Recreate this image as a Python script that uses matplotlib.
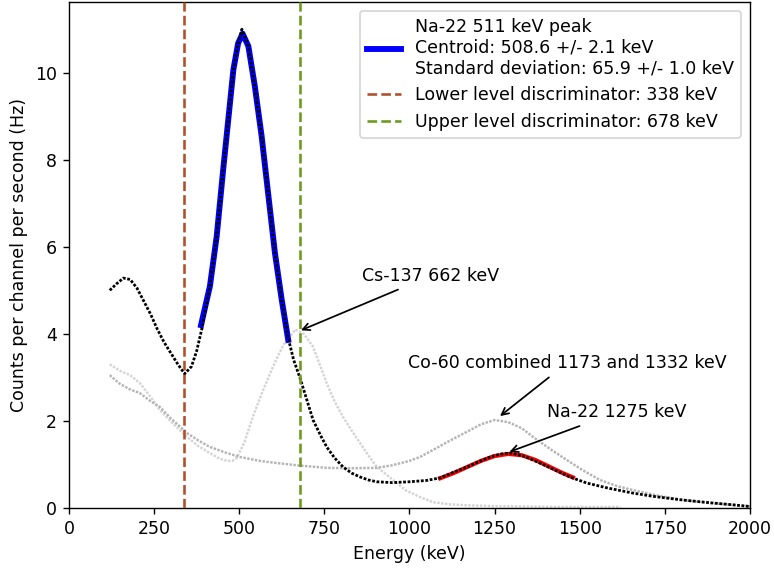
#!/usr/bin/env python3
"""
Espectro Na-22 con Cs-137 y Co-60 de referencia
"""

import matplotlib
matplotlib.use("Agg")
import matplotlib.pyplot as plt

# Na-22 spectrum (keV, Hz)
na_energy = [120, 140, 160, 180, 200, 220, 240, 260, 280, 300, 320, 340, 360, 375, 390,
             414, 434, 453, 468, 483, 497, 508, 527, 546, 566, 585, 605, 625, 644, 660,
             678, 700, 717, 740, 757, 780, 805, 830, 855, 880, 904, 950, 1000, 1050, 1090,
             1130, 1169, 1200, 1240, 1270, 1300, 1340, 1383, 1430, 1471, 1521, 1580, 1656,
             1720, 1803, 1880, 1950, 2000]
na_counts = [5.0, 5.15, 5.28, 5.25, 5.05, 4.75, 4.45, 4.1, 3.8, 3.55, 3.3, 3.08, 3.25, 3.6, 4.1,
             5.09, 6.24, 7.77, 8.92, 10.07, 10.68, 11.0, 10.61, 9.69, 8.54, 7.23, 5.86, 4.78, 3.9, 3.4,
             3.0, 2.45, 2.02, 1.65, 1.40, 1.15, 0.94, 0.80, 0.71, 0.64, 0.60, 0.58, 0.60, 0.63, 0.69,
             0.82, 0.94, 1.05, 1.18, 1.24, 1.26, 1.18, 1.03, 0.86, 0.71, 0.57, 0.46, 0.34,
             0.26, 0.18, 0.12, 0.07, 0.03]

# Cs-137 spectrum
cs_energy = [120, 150, 180, 208, 240, 267, 300, 347, 380, 414, 440, 464, 480, 493, 515, 540,
             570, 599, 630, 665, 690, 717, 757, 780, 805, 830, 855, 880, 904, 930, 952, 990,
             1031, 1069, 1120, 1169, 1250, 1350, 1450, 1620]
cs_counts = [3.3, 3.15, 3.05, 2.87, 2.55, 2.25, 1.98, 1.63, 1.42, 1.26, 1.14, 1.08, 1.08, 1.15, 1.5, 2.09,
             2.7, 3.24, 3.75, 4.1, 4.0, 3.7, 2.87, 2.45, 2.09, 1.78, 1.49, 1.2, 0.94, 0.78, 0.64, 0.4,
             0.25, 0.13, 0.08, 0.06, 0.04, 0.03, 0.02, 0.02]

# Co-60 spectrum
co_energy = [120, 150, 180, 208, 240, 267, 300, 347, 380, 414, 460, 502, 560, 611, 680, 757,
             830, 905, 950, 1000, 1031, 1069, 1120, 1169, 1210, 1250, 1290, 1330, 1363, 1410,
             1462, 1510, 1560, 1610, 1656, 1730, 1803, 1880, 1950, 2000]
co_counts = [3.05, 2.85, 2.72, 2.64, 2.45, 2.32, 2.05, 1.72, 1.55, 1.40, 1.27, 1.17, 1.08, 1.03, 0.97, 0.92,
             0.91, 0.92, 0.98, 1.08, 1.17, 1.33, 1.55, 1.75, 1.92, 2.02, 1.97, 1.83, 1.63, 1.37,
             1.10, 0.86, 0.64, 0.50, 0.41, 0.28, 0.18, 0.11, 0.07, 0.04]

# Ajustes
fit511_energy = [388, 414, 434, 453, 468, 483, 497, 510, 527, 546, 566, 585, 605, 625, 644]
fit511_counts = [4.2, 5.09, 6.24, 7.77, 8.92, 10.07, 10.68, 10.9, 10.61, 9.69, 8.54, 7.23, 5.86, 4.78, 3.86]
fit1275_energy = [1090, 1130, 1170, 1210, 1250, 1290, 1330, 1370, 1410, 1450, 1480]
fit1275_counts = [0.68, 0.80, 0.94, 1.08, 1.19, 1.24, 1.21, 1.10, 0.95, 0.80, 0.70]

lld = 338
uld = 678
peak_label = ("Na-22 511 keV peak\nCentroid: 508.6 +/- 2.1 keV\n"
              "Standard deviation: 65.9 +/- 1.0 keV")

fig = plt.figure(figsize=(6.192, 4.56), dpi=125)
ax = fig.add_axes([0.089, 0.109, 0.880, 0.887])

dots = (0, (1, 0.6))
ax.plot(cs_energy, cs_counts, color="#d4d4d4", lw=1.4, ls=dots, zorder=2)
ax.plot(co_energy, co_counts, color="#b4b4b4", lw=1.4, ls=dots, zorder=2)

ax.plot(fit511_energy, fit511_counts, color="blue", lw=3.4, label=peak_label, zorder=3)
ax.plot(fit1275_energy, fit1275_counts, color="red", lw=2.4, zorder=3)
ax.plot(na_energy, na_counts, color="black", lw=1.6, ls=dots, zorder=4)

ax.axvline(lld, color="#b0502a", ls="--", lw=1.5,
           label=f"Lower level discriminator: {lld} keV", zorder=5)
ax.axvline(uld, color="#6b9a1f", ls="--", lw=1.5,
           label=f"Upper level discriminator: {uld} keV", zorder=5)

arrow = dict(arrowstyle="->", color="black", lw=1)
ax.annotate("Cs-137 662 keV", xy=(672, 4.05), xytext=(862, 5.22), arrowprops=arrow)
ax.annotate("Co-60 combined 1173 and 1332 keV", xy=(1258, 2.06), xytext=(996, 3.22),
            arrowprops=arrow)
ax.annotate("Na-22 1275 keV", xy=(1284, 1.26), xytext=(1404, 2.08), arrowprops=arrow)

ax.set_xlim(0, 2000)
ax.set_ylim(0, 11.62)
ax.set_xticks(range(0, 2001, 250))
ax.set_yticks(range(0, 11, 2))
ax.set_xlabel("Energy (keV)")
ax.set_ylabel("Counts per channel per second (Hz)")
ax.legend(loc="upper right")

fig.savefig("out.png", dpi=125)
